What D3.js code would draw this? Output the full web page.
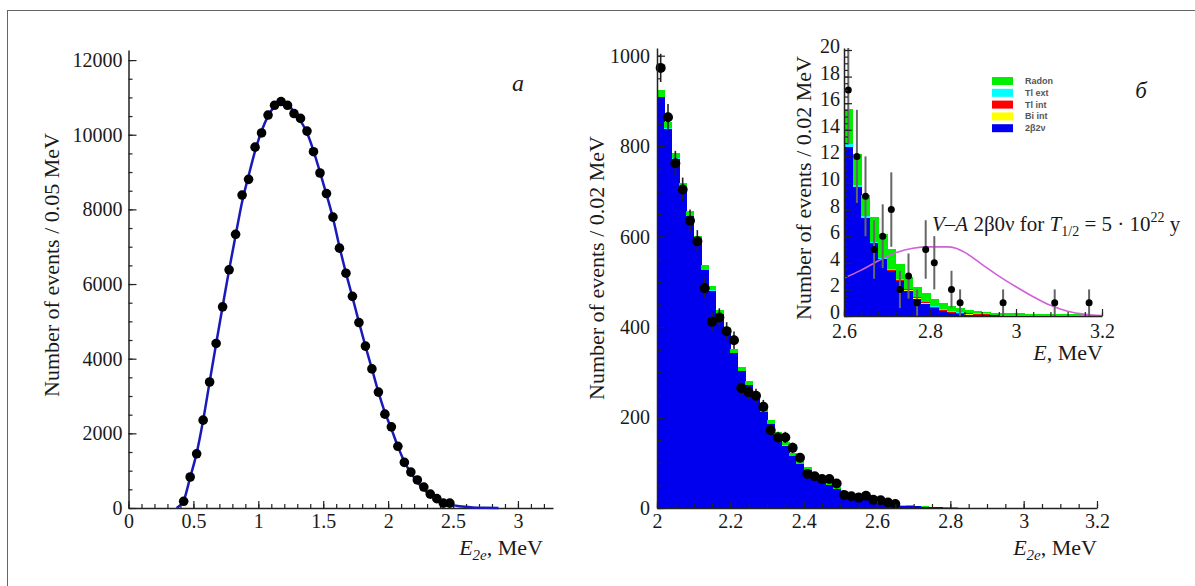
<!DOCTYPE html>
<html><head><meta charset="utf-8">
<script src="https://cdn.jsdelivr.net/npm/d3@7"></script>
<style>
body{margin:0;background:#fff;}
svg{display:block;}
.ax .tick text{font-family:"Liberation Serif","Times New Roman",serif;font-size:20px;fill:#1a1a1a;}
.ax path,.ax line{stroke:#222;}
.ttl{font-family:"Liberation Serif","Times New Roman",serif;font-size:22px;fill:#1a1a1a;}
</style></head><body>
<svg id="c" width="1195" height="586"></svg>
<script>
// ---------- Panel a: 2e energy sum, 0.05 MeV bins ----------
const leftE = [0.425,0.475,0.525,0.575,0.625,0.675,0.725,0.775,0.825,0.875,0.925,0.975,1.025,1.075,1.125,1.175,1.225,1.275,1.325,1.375,1.425,1.475,1.525,1.575,1.625,1.675,1.725,1.775,1.825,1.875,1.925,1.975,2.025,2.075,2.125,2.175,2.225,2.275,2.325,2.375,2.425,2.475];
const leftN = [180,831,1452,2354,3376,4408,5389,6381,7332,8384,8805,9667,10047,10528,10788,10889,10788,10568,10438,10097,9546,8975,8424,7793,6962,6291,5670,4968,4337,3726,3105,2514,2174,1653,1222,962,751,561,371,250,130,130];
const fitE = [0.37,0.425,0.475,0.525,0.575,0.625,0.675,0.725,0.775,0.825,0.875,0.925,0.975,1.025,1.075,1.125,1.175,1.225,1.275,1.325,1.375,1.425,1.475,1.525,1.575,1.625,1.675,1.725,1.775,1.825,1.875,1.925,1.975,2.025,2.075,2.125,2.175,2.225,2.275,2.325,2.375,2.425,2.475,2.55,2.65,2.75,2.85];
const fitN = [0,200,820,1470,2350,3380,4400,5400,6380,7300,8200,8900,9560,10100,10500,10750,10850,10800,10620,10380,10050,9570,9000,8400,7770,7000,6300,5650,4980,4340,3730,3110,2560,2120,1650,1240,940,700,500,340,220,140,90,45,15,4,0];
const leftXTicks = [0,0.5,1,1.5,2,2.5,3];
const leftYTicks = [0,2000,4000,6000,8000,10000,12000];

// ---------- Panel б: 0.02 MeV bins from 2.0 to 3.2 MeV ----------
const binLow = [2.00,2.02,2.04,2.06,2.08,2.10,2.12,2.14,2.16,2.18,2.20,2.22,2.24,2.26,2.28,2.30,2.32,2.34,2.36,2.38,2.40,2.42,2.44,2.46,2.48,2.50,2.52,2.54,2.56,2.58,2.60,2.62,2.64,2.66,2.68,2.70,2.72,2.74,2.76,2.78,2.80,2.82,2.84,2.86,2.88,2.90,2.92,2.94,2.96,2.98,3.00,3.02,3.04,3.06,3.08,3.10,3.12,3.14,3.16,3.18];
const binWidth = 0.02;
const mc2b2v = [908,839,772,708,645,592,526,480,428,388,342,302,271,246,212,185,160,138,115,97,83,72,61,51,42,33,27,22,18,15,12.7,9.7,7.4,5.5,4.3,3.4,2.6,1.9,1.3,0.93,0.6,0.38,0.23,0.15,0.1,0.08,0.05,0.04,0.03,0.02,0.02,0.01,0.01,0.01,0,0,0,0,0,0];
const mcBiInt = [0,0,0,0,0,0,0,0,0,0,0,0,0,0,0,0,0,0,0,0,0,0,0,0,0,0,0,0,0,0,0,0,0,0,0,0,0.02,0.02,0.02,0.02,0.02,0.02,0.02,0.02,0.02,0.02,0.02,0,0,0,0,0,0,0,0,0,0,0,0,0];
const mcTlInt = [0,0,0,0,0,0,0,0,0,0,0,0,0,0,0,0,0,0,0,0,0,0,0,0,0,0,0,0,0,0,0,0,0,0,0,0.08,0.08,0.08,0.08,0.08,0.08,0.08,0.08,0.08,0.08,0.08,0.08,0,0,0,0,0,0,0,0,0,0,0,0,0];
const mcTlExt = [1,1,1,1,1,1,1,1,1,1,0.5,0.5,0.5,0.5,0.5,0.5,0.5,0.5,0.5,0.5,0.3,0.3,0.3,0.3,0.3,0.3,0.3,0.3,0.3,0.3,0.25,0.15,0.1,0.05,0.05,0.05,0.05,0.05,0.05,0.05,0.05,0.05,0.05,0.05,0.05,0.05,0.05,0.05,0.05,0.05,0.05,0.05,0.05,0.05,0.05,0.05,0.05,0.05,0.05,0.05];
const mcRadon = [15,13,12,9,11,9,10,10,9,9,9.5,8.5,8.5,8.5,7.5,8.5,7.5,6.5,6.5,6.5,6.7,5.7,5.7,5.7,4.7,4.7,3.7,3.7,3.7,3.2,2.65,2.35,1.6,1.9,1.85,1.47,1.15,0.85,0.75,0.62,0.55,0.47,0.37,0.28,0.2,0.14,0.1,0.17,0.15,0.13,0.12,0.12,0.11,0.1,0.1,0.09,0.08,0.07,0.06,0.05];
const dataN = [973,864,762,704,635,590,486,412,421,391,371,265,256,248,224,172,156,156,133,111,75,70,64,64,54,29,26,23,27,18,17,12,9,5,6,8,2,3,1,5,4,0,2,1,0,0,0,0,1,0,0,0,0,0,1,0,0,0,1,0];
const dataErr = [31.2,29.4,27.6,26.5,25.2,24.3,22,20.3,20.5,19.8,19.3,16.3,16,15.7,15,13.1,12.5,12.5,11.5,10.5,8.7,8.4,8,8,7.3,5.4,5.1,4.8,5.2,4.2,4.1,3.5,3,2.2,2.4,2.8,1.4,1.7,1,2.2,2,0,1.4,1,0,0,0,0,1,0,0,0,0,0,1,0,0,0,1,0];
const zeroNuE = [2.60,2.64,2.68,2.72,2.76,2.80,2.84,2.86,2.88,2.92,2.96,3.00,3.04,3.08,3.12,3.16,3.20];
const zeroNuN = [2.85,3.45,4.15,4.75,5.1,5.2,5.2,5.1,4.8,3.9,3.0,2.2,1.45,0.8,0.35,0.12,0.03];
const rightXTicks = [2,2.2,2.4,2.6,2.8,3,3.2];
const rightYTicks = [0,200,400,600,800,1000];
const insetXTicks = [2.6,2.8,3,3.2];
const insetYTicks = [0,2,4,6,8,10,12,14,16,18,20];
const legendKeys = ["radon","tlext","tlint","biint","b2v"];
const legendLabels = ["Radon","Tl ext","Tl int","Bi int","2\u03b22\u03bd"];
const colors = {b2v:"#0000ee", biint:"#ffff00", tlint:"#ff0000", tlext:"#00ffff", radon:"#00ee00"};

const svg = d3.select("#c");
const fmt = d => String(+(+d).toFixed(2));
const rng = (a,b,s) => d3.range(Math.round(a/s), Math.round(b/s)+1).map(k => +(k*s).toFixed(4));

// frame
svg.append("rect").attr("x",7.5).attr("y",10.5).attr("width",1200).attr("height",600)
  .attr("fill","none").attr("stroke","#666").attr("stroke-width",1);

function drawAxes(x, y, xt, yt, xminor, yminor, xpad, ypad, ydy){
  const gx = svg.append("g").attr("class","ax").attr("transform",`translate(0,${y.range()[0]})`);
  gx.call(d3.axisBottom(x).tickValues(xminor).tickSizeInner(-4).tickSizeOuter(0).tickFormat(""));
  gx.call(g=>g.select(".domain").remove());
  const gx2 = svg.append("g").attr("class","ax").attr("transform",`translate(0,${y.range()[0]})`);
  gx2.call(d3.axisBottom(x).tickValues(xt).tickSizeInner(-7).tickSizeOuter(0).tickPadding(xpad).tickFormat(fmt));
  const gy = svg.append("g").attr("class","ax").attr("transform",`translate(${x.range()[0]},0)`);
  gy.call(d3.axisLeft(y).tickValues(yminor).tickSizeInner(-4).tickSizeOuter(0).tickFormat(""));
  gy.call(g=>g.select(".domain").remove());
  const gy2 = svg.append("g").attr("class","ax").attr("transform",`translate(${x.range()[0]},0)`);
  gy2.call(d3.axisLeft(y).tickValues(yt).tickSizeInner(-8).tickSizeOuter(0).tickPadding(ypad).tickFormat(fmt));
  if(ydy) gy2.selectAll(".tick text").attr("dy",ydy);
  svg.selectAll(".ax path").attr("stroke-width",1.5);
  svg.selectAll(".ax line").attr("stroke-width",1.2);
}

function xTitle(xr, yb, sub){
  const t = svg.append("text").attr("class","ttl").attr("x",xr).attr("y",yb).attr("text-anchor","end");
  t.append("tspan").attr("font-style","italic").text("E");
  if(sub){
    t.append("tspan").attr("font-style","italic").attr("font-size",15).attr("dy",5).text(sub);
    t.append("tspan").attr("dy",-5).text(", MeV");
  } else t.append("tspan").text(", MeV");
}
function yTitle(xb, yc, txt){
  svg.append("text").attr("class","ttl").attr("transform",`translate(${xb},${yc}) rotate(-90)`)
    .attr("text-anchor","middle").text(txt);
}

// ===== Panel a =====
const xL = d3.scaleLinear().domain([0,3.27]).range([128.5,553]);
const yL = d3.scaleLinear().domain([0,12270]).range([508,50]);
drawAxes(xL, yL, leftXTicks, leftYTicks, rng(0,3.2,0.1), rng(0,12000,500), 6, 6);
svg.append("path").datum(fitE.map((e,i)=>[e,fitN[i]]))
  .attr("d", d3.line().x(d=>xL(d[0])).y(d=>yL(d[1])).curve(d3.curveMonotoneX))
  .attr("fill","none").attr("stroke","#1a1ab8").attr("stroke-width",2.5);
svg.append("g").selectAll("circle").data(leftE.map((e,i)=>[e,leftN[i]])).join("circle")
  .attr("cx",d=>xL(d[0])).attr("cy",d=>yL(d[1])).attr("r",4.8).attr("fill","#000");
yTitle(59, 265, "Number of events / 0.05 MeV");
xTitle(543, 555, "2e");
svg.append("text").attr("class","ttl").attr("x",518).attr("y",91).attr("text-anchor","middle")
  .attr("font-style","italic").style("font-size","24px").text("a");

// ===== Panel б main =====
const rows = binLow.map((e,i)=>({e, b2v:mc2b2v[i], biint:mcBiInt[i], tlint:mcTlInt[i], tlext:mcTlExt[i], radon:mcRadon[i], n:dataN[i], err:dataErr[i]}));
const stack = d3.stack().keys(["b2v","biint","tlint","tlext","radon"])(rows);

const xR = d3.scaleLinear().domain([2.0,3.2]).range([657,1097]);
const yR = d3.scaleLinear().domain([0,1017]).range([508,48]);

function drawHist(x, y, lo){
  const g = svg.append("g").attr("shape-rendering","crispEdges");
  stack.forEach(layer=>{
    g.append("g").selectAll("rect").data(layer.filter(d=>d.data.e >= lo-1e-9)).join("rect")
      .attr("x",d=>x(d.data.e)).attr("width",d=>x(d.data.e+binWidth)-x(d.data.e)+0.5)
      .attr("y",d=>y(d[1])).attr("height",d=>Math.max(0,y(d[0])-y(d[1])))
      .attr("fill",colors[layer.key]);
  });
}
function drawData(x, y, lo, hi, r, ecol, ew){
  const pts = rows.filter(d=>d.e >= lo-1e-9 && d.e < hi && d.n > 0);
  const g = svg.append("g");
  g.selectAll("line").data(pts).join("line")
    .attr("x1",d=>x(d.e+binWidth/2)).attr("x2",d=>x(d.e+binWidth/2))
    .attr("y1",d=>y(Math.max(0,d.n-d.err))).attr("y2",d=>y(Math.min(y.domain()[1],d.n+d.err)))
    .attr("stroke",ecol).attr("stroke-width",ew);
  g.selectAll("circle").data(pts).join("circle")
    .attr("cx",d=>x(d.e+binWidth/2)).attr("cy",d=>y(d.n)).attr("r",r).attr("fill","#000");
}
drawHist(xR, yR, 2.0);
drawData(xR, yR, 2.0, 2.65, 5, "#222", 1.6);
drawAxes(xR, yR, rightXTicks, rightYTicks, rng(2,3.2,0.05), rng(0,1000,50), 6, 7);
yTitle(604, 268, "Number of events / 0.02 MeV");
xTitle(1097, 555, "2e");
svg.append("text").attr("class","ttl").attr("x",1141).attr("y",98).attr("text-anchor","middle")
  .attr("font-style","italic").style("font-size","23px").text("\u0431");

// ===== Inset =====
const xI = d3.scaleLinear().domain([2.6,3.2]).range([844,1102]);
const yI = d3.scaleLinear().domain([0,20.15]).range([316,48]);
drawHist(xI, yI, 2.6);
svg.append("path").datum(zeroNuE.map((e,i)=>[e,zeroNuN[i]]))
  .attr("d", d3.line().x(d=>xI(d[0])).y(d=>yI(d[1])).curve(d3.curveMonotoneX))
  .attr("fill","none").attr("stroke","#d060d8").attr("stroke-width",1.6);
drawData(xI, yI, 2.6, 3.3, 3.5, "#666", 2);
drawAxes(xI, yI, insetXTicks, insetYTicks, rng(2.6,3.2,0.04), rng(0,20,0.5), 8, 4, "0.12em");
yTitle(811, 188, "Number of events / 0.02 MeV");
xTitle(1103, 360, null);

// annotation
const ann = svg.append("text").attr("class","ttl").attr("x",932).attr("y",231).style("font-size","21px");
ann.append("tspan").attr("font-style","italic").text("V");
ann.append("tspan").text("\u2013");
ann.append("tspan").attr("font-style","italic").text("A");
ann.append("tspan").text(" 2\u03b20\u03bd for ");
ann.append("tspan").attr("font-style","italic").text("T");
ann.append("tspan").attr("font-size",14).attr("dy",5).text("1/2");
ann.append("tspan").attr("dy",-5).text(" = 5 \u00b7 10");
ann.append("tspan").attr("font-size",14).attr("dy",-9).text("22");
ann.append("tspan").attr("dy",9).text(" y");

// legend
const lg = svg.append("g");
legendKeys.forEach((k,i)=>{
  const yc = 81 + i*11.8;
  lg.append("rect").attr("x",992).attr("y",yc-4).attr("width",21).attr("height",8).attr("fill",colors[k]);
  lg.append("text").attr("x",1025).attr("y",yc+3).attr("font-family","Liberation Sans, sans-serif")
    .attr("font-weight","bold").attr("font-size",9).attr("fill","#555").text(legendLabels[i]);
});
</script></body></html>
